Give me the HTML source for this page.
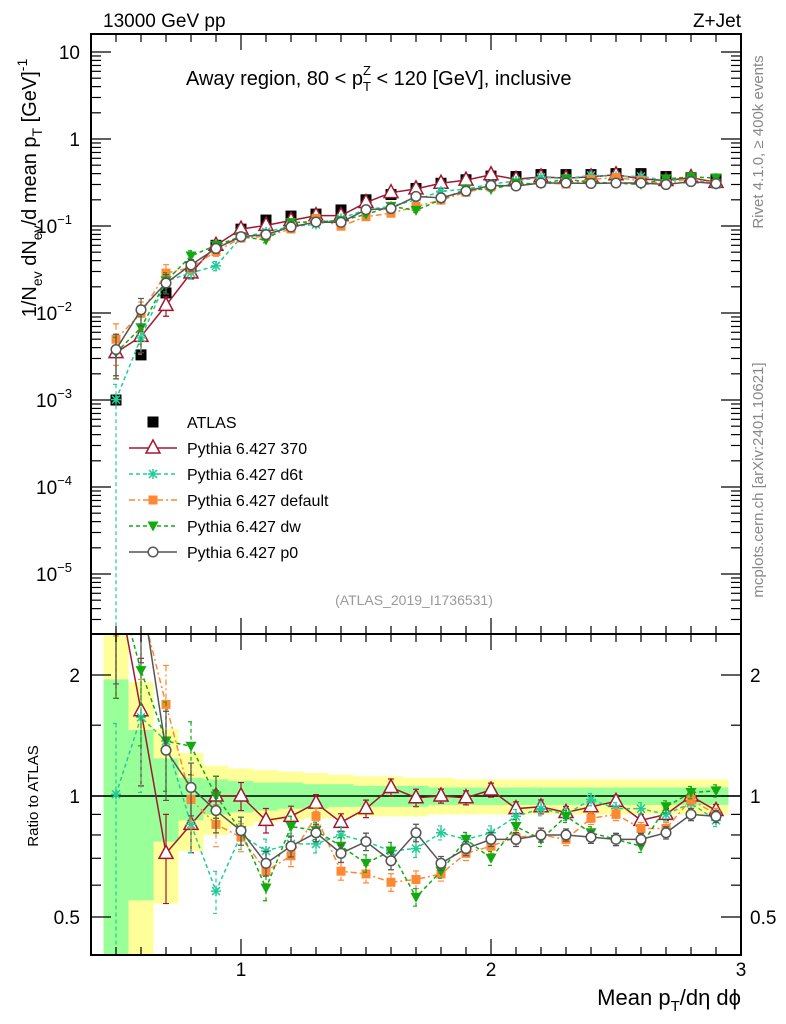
<!DOCTYPE html>
<html><head><meta charset="utf-8"><style>
html,body{margin:0;background:#fff;overflow:hidden;width:786px;height:1024px}
svg{display:block}
svg text{font-family:"Liberation Sans",sans-serif}
</style></head><body>
<svg id="c" width="786" height="1024" xmlns="http://www.w3.org/2000/svg"></svg>
<script>
const xs=[0.5,0.6,0.7,0.8,0.9,1.0,1.1,1.2,1.3,1.4,1.5,1.6,1.7,1.8,1.9,2.0,2.1,2.2,2.3,2.4,2.5,2.6,2.7,2.8,2.9];
const atlas=[0.001,0.0033,0.017,0.034,0.06,0.092,0.117,0.13,0.137,0.153,0.2,0.23,0.27,0.31,0.34,0.375,0.37,0.39,0.39,0.39,0.40,0.40,0.37,0.36,0.345];
const r370=[3.5,1.63,0.72,0.85,1.0,1.0,0.87,0.89,0.96,0.86,0.93,1.05,0.99,1.0,0.99,1.035,0.93,0.94,0.91,0.94,0.97,0.87,0.90,1.0,0.92];
const rd6t=[1.01,1.57,1.37,0.85,0.58,0.80,0.73,0.76,0.76,0.80,0.77,0.73,0.74,0.81,0.78,0.81,0.89,0.93,0.90,0.98,0.93,0.93,0.90,0.96,0.87];
const rdef=[5.0,3.0,1.69,0.98,0.85,0.79,0.65,0.71,0.89,0.65,0.64,0.61,0.62,0.64,0.72,0.75,0.79,0.80,0.78,0.88,0.90,0.83,0.83,0.98,0.90];
const rdw=[3.5,2.05,1.37,1.33,1.0,0.82,0.59,0.84,0.82,0.75,0.68,0.73,0.56,0.65,0.78,0.70,0.84,0.78,0.89,0.81,0.78,0.75,0.94,1.02,1.03];
const rp0=[3.8,3.3,1.30,1.05,0.92,0.82,0.68,0.75,0.81,0.72,0.77,0.69,0.81,0.68,0.74,0.78,0.78,0.80,0.80,0.79,0.78,0.78,0.81,0.90,0.89];
const mcErr=[0.5,0.35,0.25,0.15,0.12,0.08,0.07,0.06,0.05,0.05,0.05,0.05,0.05,0.04,0.04,0.04,0.04,0.04,0.035,0.035,0.035,0.035,0.035,0.035,0.035];
const yelUp=[2.6,1.92,1.47,1.28,1.19,1.17,1.16,1.15,1.14,1.13,1.12,1.12,1.11,1.11,1.10,1.10,1.10,1.10,1.10,1.10,1.10,1.10,1.10,1.10,1.10];
const yelDn=[0.3,0.3,0.54,0.73,0.80,0.84,0.86,0.87,0.88,0.88,0.89,0.89,0.89,0.90,0.90,0.90,0.90,0.90,0.90,0.90,0.90,0.90,0.90,0.90,0.90];
const grnUp=[1.95,1.46,1.24,1.11,1.10,1.09,1.08,1.08,1.07,1.07,1.06,1.06,1.06,1.05,1.05,1.05,1.05,1.05,1.05,1.05,1.05,1.05,1.05,1.05,1.05];
const grnDn=[0.3,0.55,0.77,0.87,0.90,0.91,0.92,0.93,0.93,0.94,0.94,0.94,0.94,0.95,0.95,0.95,0.95,0.95,0.95,0.95,0.95,0.95,0.95,0.95,0.95];
const yTicks=["10","1","10","10","10","10","10"];
const yExp=["","","−1","−2","−3","−4","−5"];

const S=document.getElementById('c');const NS="http://www.w3.org/2000/svg";
function el(t,a,p){const e=document.createElementNS(NS,t);for(const k in a)e.setAttribute(k,a[k]);(p||S).appendChild(e);return e;}
const L=91,R=741,T=34,M=634,B=955;
const X=v=>L+(v-0.4)*250;
const Y=v=>52+(1-Math.log10(v))*87;
const RY=v=>796-402*Math.log10(v);
const defs=el('defs',{});
const c1=el('clipPath',{id:'cm'},defs);el('rect',{x:L,y:T,width:R-L,height:M-T},c1);
const c2=el('clipPath',{id:'cr'},defs);el('rect',{x:L,y:M,width:R-L,height:B-M},c2);
const gm=el('g',{'clip-path':'url(#cm)'});
const gr=el('g',{'clip-path':'url(#cr)'});
xs.forEach((x,i)=>{
 const y1=el('rect',{x:X(x-0.05),width:25,y:RY(yelUp[i]),height:RY(yelDn[i])-RY(yelUp[i]),fill:'#ffff99'},gr);
 
});
xs.forEach((x,i)=>{
 const g1=el('rect',{x:X(x-0.05),width:25,y:RY(grnUp[i]),height:RY(grnDn[i])-RY(grnUp[i]),fill:'#99ff99'},gr);
 
});
el('line',{x1:L,x2:R,y1:RY(1),y2:RY(1),stroke:'#000','stroke-width':1.5},gr);

const series=[
 {n:'pythia-370',r:r370,c:'#a01830',d:'',m:'tri'},
 {n:'pythia-d6t',r:rd6t,c:'#22cc99',d:'4,3',m:'star'},
 {n:'pythia-default',r:rdef,c:'#ff8833',d:'6,3,2,3',m:'sq'},
 {n:'pythia-dw',r:rdw,c:'#11aa11',d:'4,3',m:'dtri'},
 {n:'pythia-p0',r:rp0,c:'#555555',d:'',m:'circ'}];
function marker(g,m,x,y,c){
 if(m==='tri')return el('path',{d:`M${x},${y-8}L${x+7},${y+5}L${x-7},${y+5}Z`,fill:'#fff',stroke:c,'stroke-width':1.5},g);
 if(m==='sq')return el('rect',{x:x-4.5,y:y-4.5,width:9,height:9,fill:c},g);
 if(m==='dtri')return el('path',{d:`M${x-5.5},${y-4.5}L${x+5.5},${y-4.5}L${x},${y+5.5}Z`,fill:c},g);
 if(m==='circ')return el('circle',{cx:x,cy:y,r:4.8,fill:'#fff',stroke:c,'stroke-width':1.5},g);
 if(m==='star')return el('path',{d:`M${x-5},${y}H${x+5}M${x},${y-5}V${y+5}M${x-4},${y-4}L${x+4},${y+4}M${x-4},${y+4}L${x+4},${y-4}`,stroke:c,'stroke-width':1.5},g);
 if(m==='fsq')return el('rect',{x:x-5.5,y:y-5.5,width:11,height:11,fill:'#000'},g);
}
function drawSeries(g,s,yf,vals,isRatio){
 const sg=el('g',{},g);
 const pts=xs.map((x,i)=>[X(x),yf(vals[i])]);
 el('polyline',{points:pts.map(p=>p.join(',')).join(' '),fill:'none',stroke:s.c,'stroke-width':1.5,'stroke-dasharray':s.d},sg);
 xs.forEach((x,i)=>{
  const e=mcErr[i];const y1=yf(vals[i]*(1+e)),y2=yf(vals[i]*(s.n==='pythia-d6t'&&i===0?0.0001:(1-e)));
  el('path',{d:`M${X(x)},${y1}V${y2}M${X(x)-3},${y1}h6M${X(x)-3},${y2}h6`,stroke:s.c,'stroke-width':1.2,'stroke-dasharray':s.d},sg);
 });
 xs.forEach((x,i)=>{const mk=marker(sg,s.m,X(x),yf(vals[i]),s.c);});
}
const ag=el('g',{},gm);
xs.forEach((x,i)=>{const m=marker(ag,'fsq',X(x),Y(atlas[i]));});
series.forEach(s=>{drawSeries(gm,s,Y,atlas.map((a,i)=>a*s.r[i]),false);drawSeries(gr,s,RY,s.r,true);});

el('rect',{x:L,y:T,width:R-L,height:M-T,fill:'none',stroke:'#000','stroke-width':2});
el('rect',{x:L,y:M,width:R-L,height:B-M,fill:'none',stroke:'#000','stroke-width':2});
for(let k=4;k<=30;k++){const v=k/10,x=X(v),big=k%10===0;const h=big?16:8;
 [[T,1],[M,-1],[M,1],[B,-1]].forEach(([y,d])=>el('line',{x1:x,x2:x,y1:y,y2:y+d*h,stroke:'#000','stroke-width':1.2}));
 if(big){const t=el('text',{x:x,y:976,'font-size':19,'text-anchor':'middle'});t.textContent=String(v);}}
for(let d=-6;d<=1;d++){for(let m=1;m<10;m++){const v=m*Math.pow(10,d),y=Y(v);if(y<T||y>M)continue;const h=m===1?20:10;
 el('line',{x1:L,x2:L+h,y1:y,y2:y,stroke:'#000','stroke-width':1.2});el('line',{x1:R,x2:R-h,y1:y,y2:y,stroke:'#000','stroke-width':1.2});}}
yTicks.forEach((t,i)=>{const y=Y(Math.pow(10,1-i))+7;const tx=el('text',{x:80,y:y,'font-size':19,'text-anchor':'end'});
 
 if(yExp[i]){tx.setAttribute('x',72);tx.textContent=t;const s=el('tspan',{'font-size':13,dy:-9},tx);s.textContent=yExp[i];}else tx.textContent=t;});
[0.5,0.6,0.7,0.8,0.9,1,1.5,2].forEach(v=>{const y=RY(v);const h=[0.5,1,2].includes(v)?20:10;
 el('line',{x1:L,x2:L+h,y1:y,y2:y,stroke:'#000','stroke-width':1.2});el('line',{x1:R,x2:R-h,y1:y,y2:y,stroke:'#000','stroke-width':1.2});});
[0.5,1,2].forEach(v=>{[[80,'end'],[750,'start']].forEach(([x,a])=>{const t=el('text',{x:x,y:RY(v)+7,'font-size':19,'text-anchor':a});t.textContent=String(v);});});
function txt(s,a,name){const t=el('text',a);t.innerHTML=s;return t;}
txt('13000 GeV pp',{x:103,y:27,'font-size':19},'energy-label');
txt('Z+Jet',{x:741,y:27,'font-size':19,'text-anchor':'end'},'process-label');
txt('Away region, 80 &lt; p<tspan font-size="13" dy="6">T</tspan><tspan font-size="13" dx="-8" dy="-16">Z</tspan><tspan dy="10"> &lt; 120 [GeV], inclusive</tspan>',{x:186,y:85,'font-size':20},'plot-title');
txt('(ATLAS_2019_I1736531)',{x:414,y:605,'font-size':14,fill:'#999','text-anchor':'middle'},'analysis-id');
txt('Rivet 4.1.0, ≥ 400k events',{transform:'translate(763,142) rotate(-90)','font-size':15,fill:'#888','text-anchor':'middle'},'rivet-label');
txt('mcplots.cern.ch [arXiv:2401.10621]',{transform:'translate(763,480) rotate(-90)','font-size':15,fill:'#888','text-anchor':'middle'},'mcplots-label');
txt('1/N<tspan font-size="14" dy="6">ev</tspan><tspan dy="-6"> dN</tspan><tspan font-size="14" dy="6">ev</tspan><tspan dy="-6">/d mean p</tspan><tspan font-size="14" dy="6">T</tspan><tspan dy="-6"> [GeV]</tspan><tspan font-size="14" dy="-9">-1</tspan>',{transform:'translate(36,188) rotate(-90)','font-size':20,'text-anchor':'middle'},'y-axis-title');
txt('Ratio to ATLAS',{transform:'translate(38,796) rotate(-90)','font-size':15,'text-anchor':'middle'},'ratio-axis-title');
txt('Mean p<tspan font-size="15" dy="6">T</tspan><tspan dy="-6">/dη dϕ</tspan>',{x:741,y:1005,'font-size':22,'text-anchor':'end'},'x-axis-title');
const lg=el('g',{});
const names=['ATLAS','Pythia 6.427 370','Pythia 6.427 d6t','Pythia 6.427 default','Pythia 6.427 dw','Pythia 6.427 p0'];
names.forEach((n,i)=>{const y=422+i*26;const g=el('g',{},lg);
 if(i===0)marker(g,'fsq',153,y);else{const s=series[i-1];el('line',{x1:129,x2:177,y1:y,y2:y,stroke:s.c,'stroke-width':1.5,'stroke-dasharray':s.d},g);marker(g,s.m,153,y,s.c);}
 const t=el('text',{x:187,y:y+6,'font-size':16},g);t.textContent=n;});
</script>
</body></html>
